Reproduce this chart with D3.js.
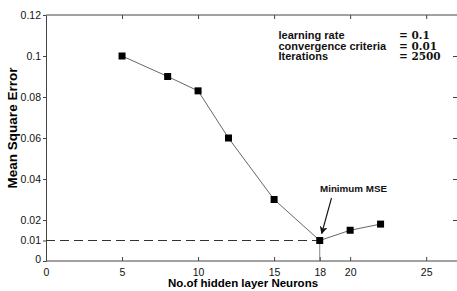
<!DOCTYPE html>
<html>
<head>
<meta charset="utf-8">
<script src="https://cdnjs.cloudflare.com/ajax/libs/d3/7.8.5/d3.min.js"></script>
<style>
  body { margin: 0; background: #fff; }
  svg { display: block; }
</style>
</head>
<body>
<div id="chart"></div>
<script>
// values
var neurons = [5, 8, 10, 12, 15, 18, 20, 22];
var mse = [0.1, 0.09, 0.083, 0.06, 0.03, 0.01, 0.015, 0.018];
var xTicks = [0, 5, 10, 15, 18, 20, 25];
var xTopTicks = [5, 10, 15, 20, 25];
var yTicks = [0, 0.01, 0.02, 0.04, 0.06, 0.08, 0.1, 0.12];
var yTickLabels = ["0", "0.01", "0.02", "0.04", "0.06", "0.08", "0.1", "0.12"];
var yRightTicks = [0.02, 0.04, 0.06, 0.08, 0.1];
var paramNames = ["learning rate", "convergence criteria", "Iterations"];
var paramValues = ["= 0.1", "= 0.01", "= 2500"];
var minPoint = [18, 0.01];

var w = 457;
var h = 291;

var svg = d3.select("#chart")
    .append("svg")
    .attr("width", w)
    .attr("height", h);

var x = d3.scaleLinear().domain([0, 27]).range([46, 456.6]);
var y = d3.scaleLinear().domain([0, 0.12]).range([261, 15]);

var axisColor = "#444";

// frame (no right edge visible in the picture)
svg.append("line")
    .attr("x1", x(0)).attr("x2", w)
    .attr("y1", y(0.12)).attr("y2", y(0.12))
    .style("stroke", axisColor).style("stroke-width", 1);

// bottom axis, ticks pointing inward
var xAxis = d3.axisBottom(x)
    .tickValues(xTicks)
    .tickSizeInner(-4)
    .tickSizeOuter(0)
    .tickPadding(8)
    .tickFormat(d3.format("d"));

var gx = svg.append("g")
    .attr("transform", "translate(0," + y(0) + ")")
    .call(xAxis);
gx.select(".domain").attr("d", "M" + x(0) + ",0H" + w);

// top ticks
var xTop = d3.axisTop(x)
    .tickValues(xTopTicks)
    .tickSizeInner(-4)
    .tickSizeOuter(0)
    .tickFormat("");
var gt = svg.append("g")
    .attr("transform", "translate(0," + y(0.12) + ")")
    .call(xTop);
gt.select(".domain").remove();

// left axis, ticks pointing out
var yAxis = d3.axisLeft(y)
    .tickValues(yTicks)
    .tickSizeInner(3)
    .tickSizeOuter(0)
    .tickPadding(2)
    .tickFormat(function(d, i) { return yTickLabels[i]; });
var gy = svg.append("g")
    .attr("transform", "translate(" + x(0) + ",0)")
    .call(yAxis);

// right ticks
var yRight = d3.axisRight(y)
    .tickValues(yRightTicks)
    .tickSizeInner(-4)
    .tickSizeOuter(0)
    .tickFormat("");
var gr = svg.append("g")
    .attr("transform", "translate(" + w + ",0)")
    .call(yRight);
gr.select(".domain").remove();

svg.selectAll(".tick line, .domain").style("stroke", axisColor);
svg.selectAll(".tick text")
    .style("font-family", "'Liberation Sans', Arial, sans-serif")
    .style("font-size", "10.5px")
    .style("fill", "#111");
gy.selectAll(".tick text").filter(function(d) { return d === 0; })
    .attr("dy", "0.1em");

// axis titles
svg.append("text")
    .attr("x", 243)
    .attr("y", 287)
    .attr("text-anchor", "middle")
    .style("font-family", "'Liberation Sans', Arial, sans-serif")
    .style("font-weight", "bold")
    .style("font-size", "11.5px")
    .text("No.of hidden layer Neurons");

svg.append("text")
    .attr("transform", "translate(17," + 128 + ") rotate(-90)")
    .attr("text-anchor", "middle")
    .style("font-family", "'Liberation Sans', Arial, sans-serif")
    .style("font-weight", "bold")
    .style("font-size", "13.5px")
    .text("Mean Square Error");

// reference lines at the minimum
svg.append("line")
    .attr("x1", x(0)).attr("x2", x(minPoint[0]))
    .attr("y1", y(minPoint[1])).attr("y2", y(minPoint[1]))
    .style("stroke", "#333")
    .style("stroke-width", 1)
    .style("stroke-dasharray", "9,5");

svg.append("line")
    .attr("x1", x(minPoint[0])).attr("x2", x(minPoint[0]))
    .attr("y1", y(minPoint[1])).attr("y2", y(0))
    .style("stroke", "#666")
    .style("stroke-width", 0.8);

// data line + markers
var line = d3.line()
    .x(function(d, i) { return x(neurons[i]); })
    .y(function(d) { return y(d); });

svg.append("path")
    .datum(mse)
    .attr("d", line)
    .style("fill", "none")
    .style("stroke", "#555")
    .style("stroke-width", 0.9);

svg.selectAll("rect.pt")
    .data(mse)
    .enter()
    .append("rect")
    .attr("class", "pt")
    .attr("x", function(d, i) { return x(neurons[i]) - 3.5; })
    .attr("y", function(d) { return y(d) - 3.5; })
    .attr("width", 7)
    .attr("height", 7)
    .style("fill", "#000");

// annotation
svg.append("defs").append("marker")
    .attr("id", "arrow")
    .attr("viewBox", "0 0 10 10")
    .attr("refX", 9).attr("refY", 5)
    .attr("markerWidth", 8).attr("markerHeight", 8)
    .attr("markerUnits", "userSpaceOnUse")
    .attr("orient", "auto")
    .append("path")
    .attr("d", "M0,0L10,5L0,10L3,5Z")
    .style("fill", "#111");

svg.append("line")
    .attr("x1", 331.5).attr("y1", 198)
    .attr("x2", x(minPoint[0]) + 2).attr("y2", y(minPoint[1]) - 7)
    .style("stroke", "#111")
    .style("stroke-width", 1.1)
    .attr("marker-end", "url(#arrow)");

svg.append("text")
    .attr("x", 320)
    .attr("y", 191.5)
    .style("font-family", "'Liberation Sans', Arial, sans-serif")
    .style("font-weight", "bold")
    .style("font-size", "9.8px")
    .style("fill", "#111")
    .text("Minimum MSE");

// parameter box text
var rowY = [38.8, 49.6, 60.2];

svg.selectAll("text.pname")
    .data(paramNames)
    .enter()
    .append("text")
    .attr("class", "pname")
    .attr("x", 278.5)
    .attr("y", function(d, i) { return rowY[i]; })
    .style("font-family", "'Liberation Sans', Arial, sans-serif")
    .style("font-weight", "bold")
    .style("font-size", "11px")
    .style("fill", "#111")
    .text(function(d) { return d; });

svg.selectAll("text.pval")
    .data(paramValues)
    .enter()
    .append("text")
    .attr("class", "pval")
    .attr("x", 399)
    .attr("y", function(d, i) { return rowY[i]; })
    .style("font-family", "'DejaVu Serif', 'Liberation Serif', serif")
    .style("font-weight", "bold")
    .style("font-size", "10.5px")
    .style("fill", "#111")
    .text(function(d) { return d; });
</script>
</body>
</html>
